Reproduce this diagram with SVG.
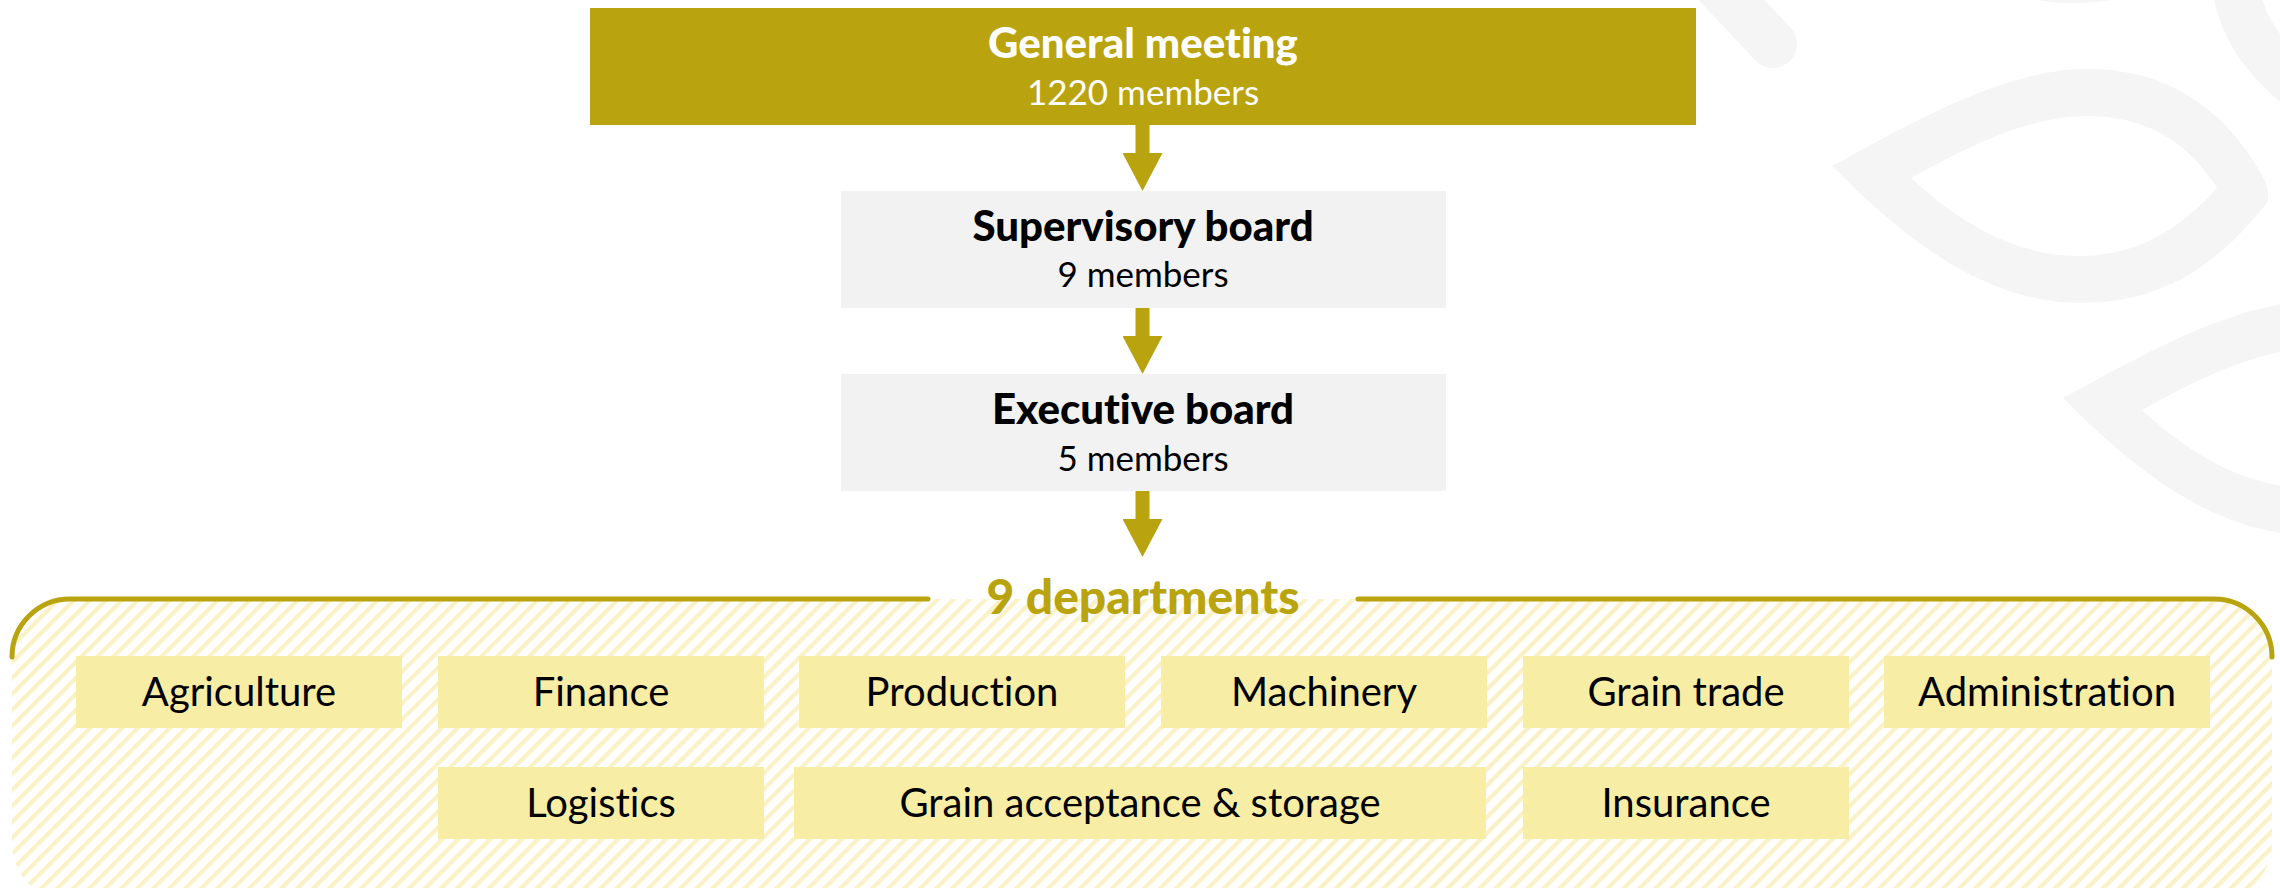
<svg xmlns="http://www.w3.org/2000/svg" width="2280" height="888" viewBox="0 0 2280 888">
  <defs>
    <style>
      .t { font-family: Lato, "Open Sans", "Liberation Sans", sans-serif; text-anchor: middle; font-variant-ligatures: none; font-feature-settings: "liga" 0; }
      .title { font-size: 42px; font-weight: 900; }
      .sub { font-size: 35px; font-weight: 400; }
      .dept-text { font-size: 40px; font-weight: 400; fill: #000; }
      .gray { fill: #f2f2f2; }
      .dept { fill: #f7eda5; }
      .leaf { fill: #f5f5f5; fill-rule: evenodd; }
      .conn { stroke: #b9a40f; stroke-width: 14; fill: none; }
    </style>
    <pattern id="hatch" width="11.3" height="11.3" patternUnits="userSpaceOnUse" patternTransform="rotate(45)">
      <rect x="0" y="0" width="4.2" height="11.3" fill="#faf2c6"/>
    </pattern>
    <marker id="ah" markerUnits="userSpaceOnUse" markerWidth="38" markerHeight="40" viewBox="0 0 38 40" refX="0" refY="20" orient="auto">
      <path d="M0,0 L38,20 L0,40 Z" fill="#b9a40f"/>
    </marker>
    <path id="leafShape" d="M1832,166 C1900,130 2000,69 2087,69 C2170,69 2225,110 2262,175 Q2272,195 2266,204 C2215,268 2160,303 2080,303 C1990,303 1910,245 1832,166 Z M1911,178 C1970,145 2030,116 2087,116 C2150,116 2190,145 2217,188 C2180,230 2135,256 2080,256 C2020,256 1965,228 1911,178 Z"/>
  </defs>

  <rect x="0" y="0" width="2280" height="888" fill="#ffffff"/>

  <!-- background decoration -->
  <g id="decoration">
    <use href="#leafShape" class="leaf"/>
    <use href="#leafShape" class="leaf" transform="translate(231,232)"/>
    <use href="#leafShape" class="leaf" transform="translate(-8,-300)"/>
    <line x1="1690" y1="-44" x2="1773" y2="44" stroke="#f5f5f5" stroke-width="48" stroke-linecap="round"/>
    <path d="M2234,-20 C2240,20 2255,50 2300,88" fill="none" stroke="#f5f5f5" stroke-width="47"/>
  </g>

  <!-- departments container -->
  <g id="departments-container">
    <rect x="12" y="599" width="2260" height="302" rx="58" ry="58" fill="url(#hatch)"/>
    <path d="M12,657 A58,58 0 0 1 70,599 L928,599 M1358,599 L2214,599 A58,58 0 0 1 2272,657" fill="none" stroke="#b9a40f" stroke-width="5" stroke-linecap="round"/>
    <text class="t" x="1143" y="614" font-size="48" font-weight="900" fill="#b9a40f">9 departments</text>
  </g>

  <g id="connectors">
    <line class="conn" x1="1142.5" y1="125" x2="1142.5" y2="153" marker-end="url(#ah)"/>
    <line class="conn" x1="1142.5" y1="308" x2="1142.5" y2="336" marker-end="url(#ah)"/>
    <line class="conn" x1="1142.5" y1="491" x2="1142.5" y2="519" marker-end="url(#ah)"/>
  </g>

  <g id="general-meeting">
    <rect x="590" y="8" width="1106" height="117" fill="#b9a40f"/>
    <text class="t title" x="1143" y="58" fill="#ffffff">General meeting</text>
    <text class="t sub" x="1143" y="105" fill="#ffffff">1220 members</text>
  </g>

  <g id="supervisory-board">
    <rect class="gray" x="841" y="191" width="605" height="117"/>
    <text class="t title" x="1143" y="241" fill="#000">Supervisory board</text>
    <text class="t sub" x="1143" y="287" fill="#000">9 members</text>
  </g>

  <g id="executive-board">
    <rect class="gray" x="841" y="374" width="605" height="117"/>
    <text class="t title" x="1143" y="424" fill="#000">Executive board</text>
    <text class="t sub" x="1143" y="471" fill="#000">5 members</text>
  </g>

  <g id="dept-agriculture">
    <rect class="dept" x="76" y="656" width="326" height="72"/>
    <text class="t dept-text" x="239" y="706">Agriculture</text>
  </g>
  <g id="dept-finance">
    <rect class="dept" x="438" y="656" width="326" height="72"/>
    <text class="t dept-text" x="601" y="706">Finance</text>
  </g>
  <g id="dept-production">
    <rect class="dept" x="799" y="656" width="326" height="72"/>
    <text class="t dept-text" x="962" y="706">Production</text>
  </g>
  <g id="dept-machinery">
    <rect class="dept" x="1161" y="656" width="326" height="72"/>
    <text class="t dept-text" x="1324" y="706">Machinery</text>
  </g>
  <g id="dept-grain-trade">
    <rect class="dept" x="1523" y="656" width="326" height="72"/>
    <text class="t dept-text" x="1686" y="706">Grain trade</text>
  </g>
  <g id="dept-administration">
    <rect class="dept" x="1884" y="656" width="326" height="72"/>
    <text class="t dept-text" x="2047" y="706">Administration</text>
  </g>
  <g id="dept-logistics">
    <rect class="dept" x="438" y="767" width="326" height="72"/>
    <text class="t dept-text" x="601" y="817">Logistics</text>
  </g>
  <g id="dept-grain-acceptance">
    <rect class="dept" x="794" y="767" width="692" height="72"/>
    <text class="t dept-text" x="1140" y="817">Grain acceptance &amp; storage</text>
  </g>
  <g id="dept-insurance">
    <rect class="dept" x="1523" y="767" width="326" height="72"/>
    <text class="t dept-text" x="1686" y="817">Insurance</text>
  </g>
</svg>
